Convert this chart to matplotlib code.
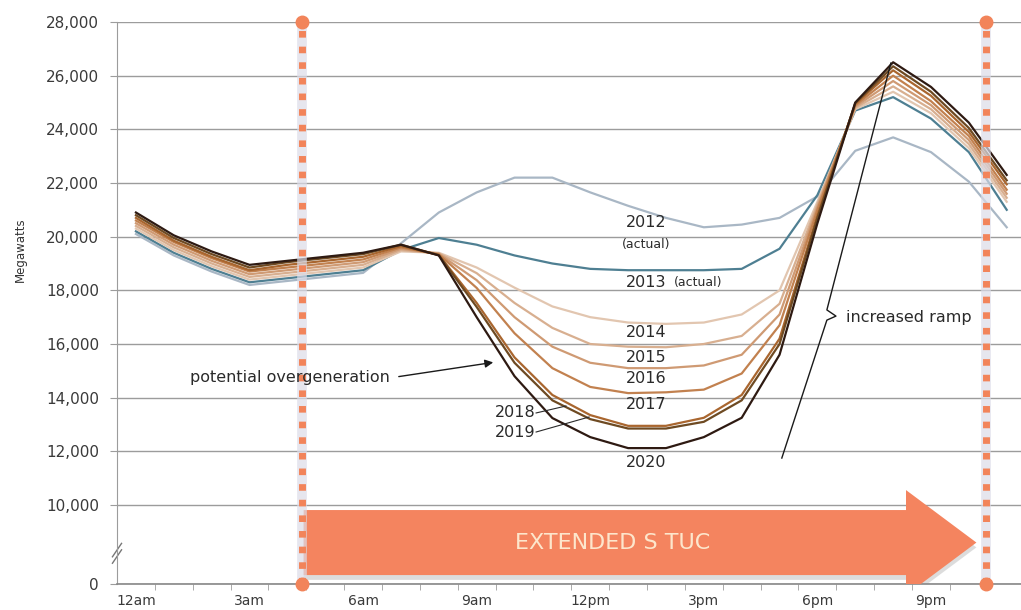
import matplotlib
matplotlib.use('Agg')
import matplotlib.pyplot as plt
from matplotlib.patches import Polygon

# hourly net load (MW)
hours = list(range(24))
y2012 = [20100, 19300, 18700, 18200, 18350, 18500, 18650, 19750, 20900, 21650, 22200, 22200,
         21650, 21150, 20700, 20350, 20450, 20700, 21500, 23200, 23700, 23150, 22050, 20350]
y2013 = [20200, 19400, 18800, 18300, 18450, 18600, 18750, 19500, 19950, 19700, 19300, 19000,
         18800, 18750, 18750, 18750, 18800, 19550, 21550, 24700, 25200, 24400, 23150, 21000]
y2014 = [20300, 19500, 18900, 18400, 18550, 18700, 18850, 19450, 19400, 18850, 18100, 17400,
         17000, 16800, 16750, 16800, 17100, 18000, 21300, 24750, 25400, 24600, 23300, 21300]
y2015 = [20400, 19600, 19000, 18500, 18650, 18800, 18950, 19500, 19380, 18640, 17530, 16600,
         16000, 15900, 15880, 16000, 16300, 17500, 21200, 24800, 25600, 24750, 23450, 21450]
y2016 = [20500, 19700, 19100, 18600, 18750, 18900, 19050, 19550, 19360, 18380, 17000, 15900,
         15300, 15100, 15100, 15200, 15600, 17100, 21100, 24850, 25800, 24900, 23600, 21600]
y2017 = [20600, 19800, 19200, 18700, 18850, 19000, 19150, 19600, 19340, 18090, 16400, 15100,
         14400, 14170, 14200, 14300, 14900, 16700, 21000, 24900, 26000, 25050, 23750, 21750]
y2018 = [20700, 19850, 19250, 18750, 18950, 19100, 19250, 19650, 19320, 17530, 15500, 14100,
         13350, 12950, 12950, 13250, 14100, 16200, 20800, 24950, 26200, 25250, 23900, 21950]
y2019 = [20800, 19950, 19350, 18850, 19050, 19200, 19350, 19700, 19310, 17380, 15300, 13900,
         13200, 12850, 12850, 13100, 13900, 16000, 20700, 24980, 26350, 25400, 24050, 22100]
y2020 = [20900, 20050, 19450, 18950, 19100, 19250, 19400, 19700, 19300, 17000, 14800, 13240,
         12530, 12120, 12120, 12530, 13250, 15600, 20500, 25000, 26500, 25580, 24250, 22300]

years = ['2012', '2013', '2014', '2015', '2016', '2017', '2018', '2019', '2020']
colors = ['#A9B7C5', '#4E7F92', '#E2C6B0', '#D8AF90', '#CF9A73', '#C2814F', '#A9662F',
          '#6E4A22', '#2E1A12']

tick_hours = [0, 3, 6, 9, 12, 15, 18, 21]
tick_names = ['12am', '3am', '6am', '9am', '12pm', '3pm', '6pm', '9pm']
y_ticks = [10000, 12000, 14000, 16000, 18000, 20000, 22000, 24000, 26000, 28000]

AXIS_ZERO = 7056   # where the broken axis puts "0"
ORANGE = '#F2845A'
GRID = '#9C9C9C'

fig = plt.figure(figsize=(10.21, 6.10), dpi=100)
ax = fig.add_axes([117 / 1021, 26 / 610, 904 / 1021, 562 / 610])

for name, vals, c in zip(years, [y2012, y2013, y2014, y2015, y2016, y2017, y2018, y2019, y2020], colors):
    ax.plot(hours, vals, color=c, lw=1.6, zorder=4)

ax.set_xlim(-0.5, -0.5 + 904 / 37.86)
ax.set_ylim(AXIS_ZERO, 28000)

ax.set_yticks([AXIS_ZERO] + y_ticks)
ax.set_yticklabels(['0'] + [f'{v:,}' for v in y_ticks])
ax.yaxis.grid(True, color=GRID, lw=1.0)
ax.set_axisbelow(True)
for s in ['top', 'right']:
    ax.spines[s].set_visible(False)
ax.spines['left'].set_color(GRID)
ax.spines['bottom'].set_color('#888888')
ax.spines['bottom'].set_linewidth(1.2)
ax.tick_params(axis='y', length=5, color=GRID, labelsize=11, labelcolor='#3A3A3A', pad=8)

ax.set_xticks(tick_hours)
ax.set_xticklabels(tick_names)
ax.set_xticks([h + 0.5 for h in range(23)], minor=True)
ax.tick_params(axis='x', which='major', length=0, labelsize=10, labelcolor='#3A3A3A', pad=7)
ax.tick_params(axis='x', which='minor', length=4, color=GRID)

# axis break mark
for dy in [-120, 120]:
    ax.plot([-0.62, -0.38], [8200 + dy - 250, 8200 + dy + 250], color='#777777', lw=1, clip_on=False)

fig.text(20 / 1021, 1 - 250 / 610, 'Megawatts', rotation=90, fontsize=8.5, ha='center', va='center',
         color='#333333')

# extended STUC arrow
x0, xb, xt = 4.43, 20.34, 22.2
yc = 8600
verts = [(x0, 7389), (xb, 7389), (xb, 2 * yc - 10557), (xt, yc), (xb, 10557), (xb, 9812), (x0, 9812)]
shadow = [(x, y - 180) for x, y in verts]
ax.add_patch(Polygon(shadow, closed=True, fc='#BBBBBB', ec='none', alpha=0.5, zorder=2.5))
ax.add_patch(Polygon(verts, closed=True, fc='#F4845F', ec='none', zorder=3))
ax.text(12.6, yc, 'EXTENDED S TUC', ha='center', va='center', fontsize=16, color='#FDE6CC', zorder=4)

# dotted boundary lines
for hx in [4.38, 22.45]:
    ax.plot([hx, hx], [AXIS_ZERO, 28000], color='#DCDCE8', lw=7, alpha=0.7, zorder=5)
    ax.plot([hx, hx], [AXIS_ZERO, 28000], color=ORANGE, lw=5, ls=(0, (0.95, 1.3)),
            dash_capstyle='butt', zorder=6)
    ax.plot([hx, hx], [AXIS_ZERO, 28000], 'o', ms=9, color=ORANGE, clip_on=False, zorder=7)

# year labels
txt = dict(color='#2A2A2A', ha='center', va='center', zorder=8)
ax.text(13.48, 20510, '2012', fontsize=11.5, **txt)
ax.text(13.48, 19690, '(actual)', fontsize=9, **txt)
ax.text(13.48, 18310, '2013', fontsize=11.5, **txt)
ax.text(14.85, 18310, '(actual)', fontsize=9, **txt)
ax.text(13.48, 16410, '2014', fontsize=11.5, **txt)
ax.text(13.48, 15480, '2015', fontsize=11.5, **txt)
ax.text(13.48, 14730, '2016', fontsize=11.5, **txt)
ax.text(13.48, 13730, '2017', fontsize=11.5, **txt)
ax.text(13.48, 11600, '2020', fontsize=11.5, **txt)
ax.text(10.55, 13430, '2018', fontsize=11.5, color='#2A2A2A', ha='right', va='center')
ax.text(10.55, 12720, '2019', fontsize=11.5, color='#2A2A2A', ha='right', va='center')
ax.plot([10.57, 11.36], [13430, 13690], color='#2A2A2A', lw=0.8, zorder=8)
ax.plot([10.57, 11.97], [12720, 13280], color='#2A2A2A', lw=0.8, zorder=8)

# annotations
ax.annotate('', xy=(9.51, 15330), xytext=(6.87, 14770),
            arrowprops=dict(arrowstyle='-|>', color='#1A1A1A', lw=1.0, mutation_scale=12))
ax.text(6.7, 14770, 'potential overgeneration', ha='right', va='center', fontsize=11.5,
        color='#2A2A2A', zorder=8)

ax.plot([17.06, 18.25, 18.49, 18.25, 19.94], [11750, 16890, 17040, 17270, 26470],
        color='#1A1A1A', lw=1.0, zorder=8)
ax.text(18.75, 17000, 'increased ramp', ha='left', va='center', fontsize=11.5, color='#2A2A2A',
        zorder=8)

fig.savefig('out.png', dpi=100)
